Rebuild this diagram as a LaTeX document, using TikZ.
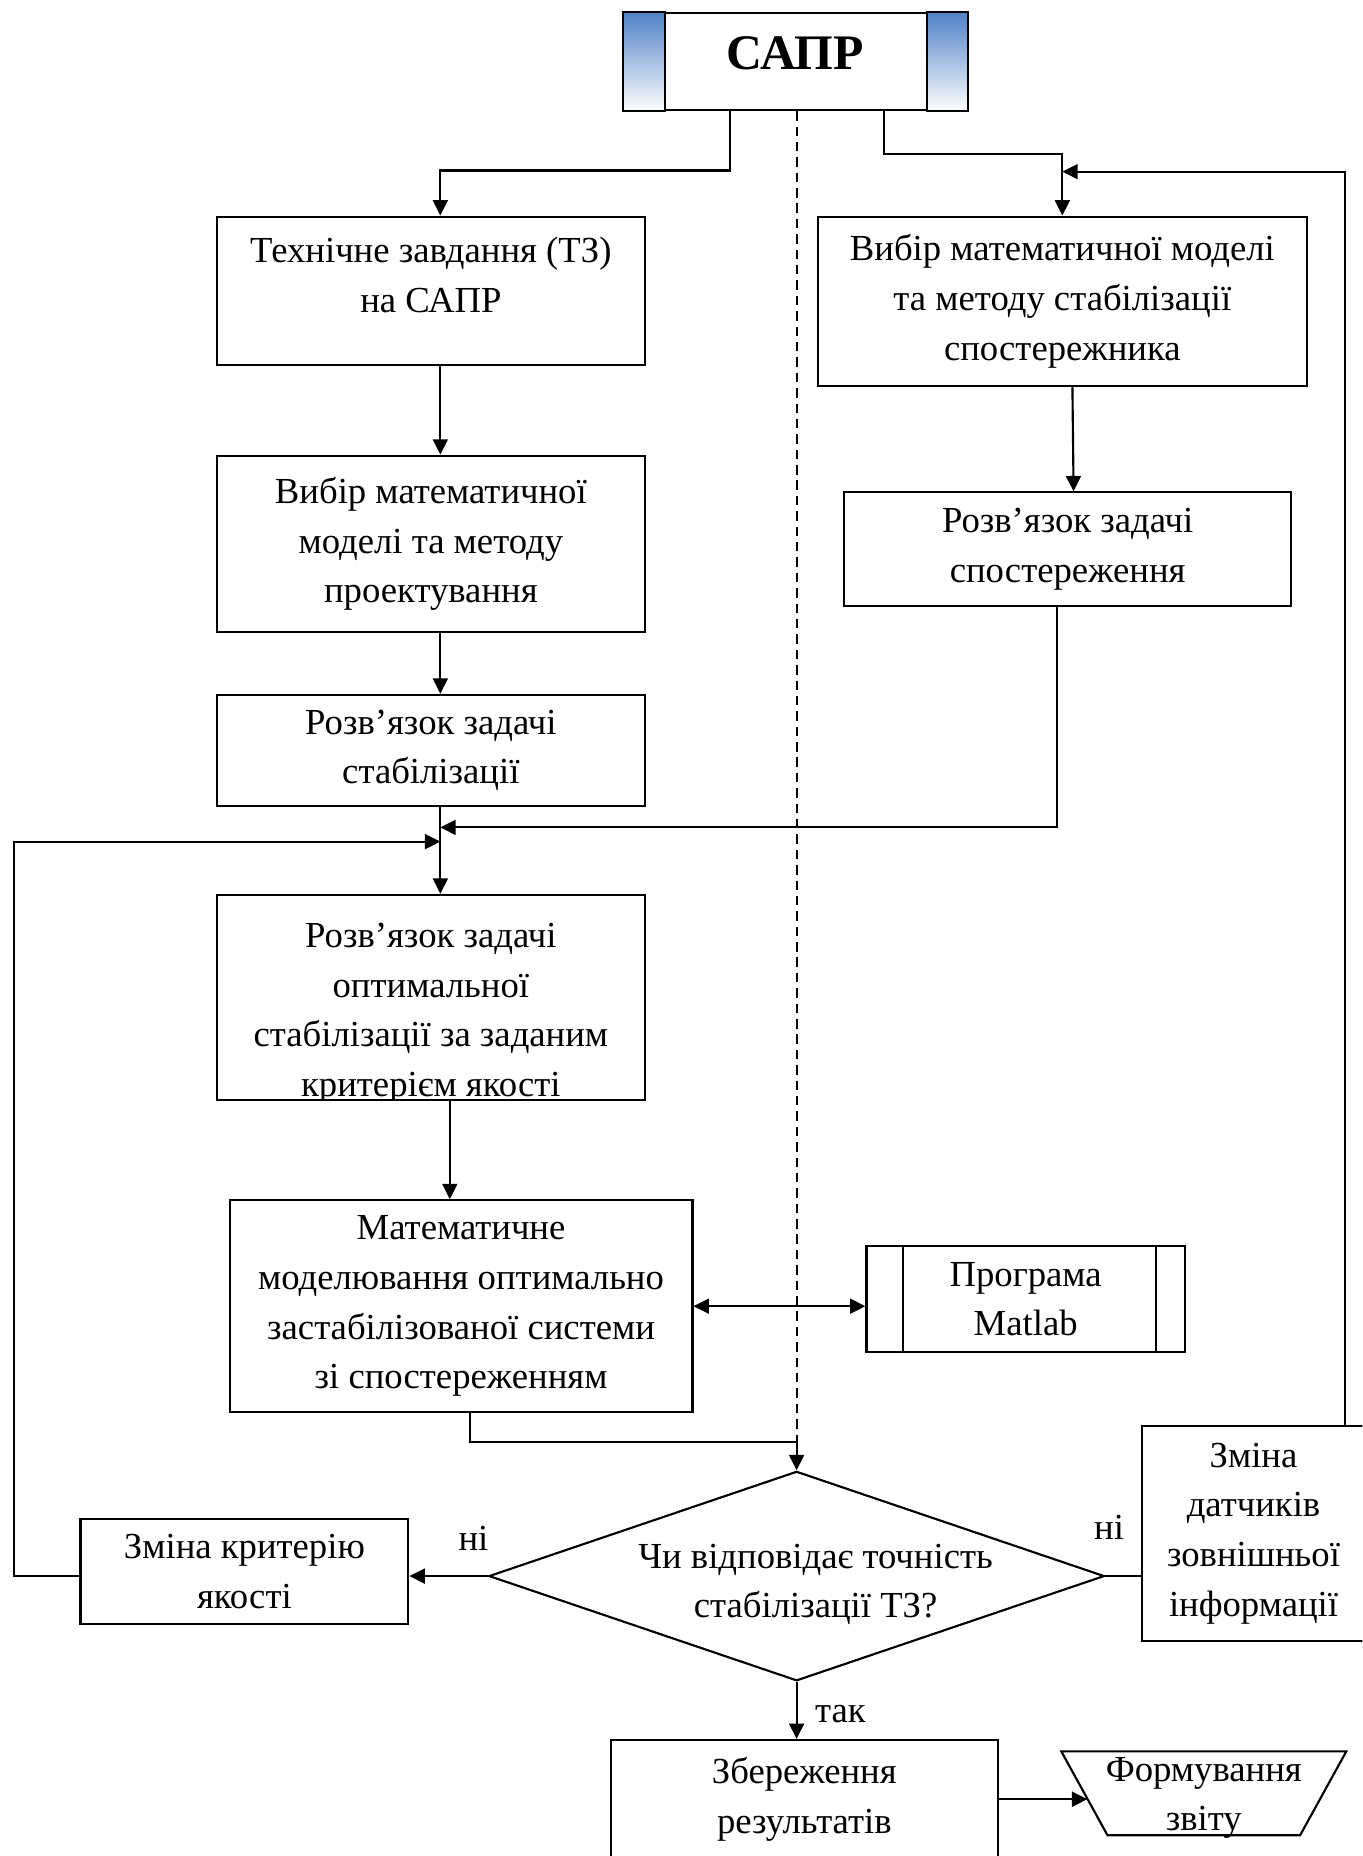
\documentclass[tikz,border=0pt]{standalone}
\usepackage{fontspec}
\setmainfont{Liberation Serif}
\usetikzlibrary{arrows.meta,shapes.geometric}
\newcommand\bodyfs{\fontsize{15.5}{21}\selectfont}
\newcommand\saprfs{\fontsize{21}{25}\selectfont\bfseries}
\definecolor{sapblue}{RGB}{79,129,199}
\begin{document}
\begin{tikzpicture}[x=0.5pt,y=-0.5pt,
  box/.style={draw, line width=0.9pt, inner sep=0pt, align=center, font=\bodyfs},
  txt/.style={inner sep=0pt, align=center, font=\bodyfs},
  ln/.style={line width=0.9pt},
  arr/.style={line width=0.9pt, -{Triangle[length=6.5pt,width=6.3pt]}},
  darr/.style={line width=0.9pt, {Triangle[length=6.5pt,width=6.3pt]}-{Triangle[length=6.5pt,width=6.3pt]}},
  dia/.style={draw, line width=0.9pt, diamond, inner sep=0pt, minimum width=260pt, minimum height=88.5pt},
  frame/.style={inner sep=0pt, minimum width=120pt, minimum height=35pt},
]
\clip (0,0) rectangle (1151,1568);
\fill[white] (0,0) rectangle (1151,1568);

% top box
\node[box, minimum width=145pt, minimum height=41pt] (sapr) at (672,52) {};
\shadedraw[line width=0.9pt, top color=sapblue, bottom color=white] (sapr.north west) rectangle ([xshift=18pt]sapr.south west);
\shadedraw[line width=0.9pt, top color=sapblue, bottom color=white] (sapr.north east) rectangle ([xshift=-17.5pt]sapr.south east);
\node[txt, font=\saprfs] (saprt) at ([yshift=3.5pt]sapr.center) {САПР};

% left column
\node[box, minimum width=181pt, minimum height=62.5pt] (tz) at (364,245.5) {};
\node[txt] (tzt) at ([yshift=6.5pt]tz.center) {Технічне завдання (ТЗ)\\на САПР};
\node[box, minimum width=181pt, minimum height=74.5pt] (vm) at (364,459.5) {Вибір математичної\\моделі та методу\\проектування};
\node[box, minimum width=181pt, minimum height=47pt] (rs) at (364,634) {Розв’язок задачі\\стабілізації};
\node[box, minimum width=181pt, minimum height=86.5pt] (opt) at (364,842.5) {};
\begin{scope}
  \clip (opt.north west) rectangle (opt.south east);
  \node[txt] (optt) at ([yshift=-7pt]opt.center) {Розв’язок задачі\\оптимальної\\стабілізації за заданим\\критерієм якості};
\end{scope}
\node[box, minimum width=195.5pt, minimum height=89.5pt] (mm) at (389.5,1103.5) {Математичне\\моделювання оптимально\\застабілізованої системи\\зі спостереженням};

% right column
\node[box, minimum width=206.5pt, minimum height=71.5pt] (r1) at (897.5,254.5) {Вибір математичної моделі\\та методу стабілізації\\спостережника};
\node[box, minimum width=189pt, minimum height=48pt] (r2) at (902,464) {Розв’язок задачі\\спостереження};
\node[box, minimum width=134.5pt, minimum height=44.5pt] (ml) at (866.5,1097.5) {Програма\\Matlab};
\draw[ln] ([xshift=16pt]ml.north west) -- ([xshift=16pt]ml.south west);
\draw[ln] ([xshift=-12.5pt]ml.north east) -- ([xshift=-12.5pt]ml.south east);

% decision and lower part
\node[dia] (dec) at (673,1331.5) {};
\node[txt] (dect) at ([shift={(8pt,-3.5pt)}]dec.center) {Чи відповідає точність\\стабілізації ТЗ?};
\node[box, minimum width=138.5pt, minimum height=44.5pt] (zk) at (206.5,1327.5) {Зміна критерію\\якості};
\node[box, minimum width=94pt, minimum height=90.5pt] (zd) at (1059,1295.5) {Зміна\\датчиків\\зовнішньої\\інформації};
\node[box, minimum width=163.5pt, minimum height=50pt] (zb) at (679.5,1520) {Збереження\\результатів};
\node[frame] (fz) at (1017,1515) {};
\draw[ln] (fz.north west) -- (fz.north east) -- ([xshift=-19.5pt]fz.south east) -- ([xshift=19.5pt]fz.south west) -- cycle;
\node[txt] (fzt) at ([yshift=-2pt]fz.center) {Формування\\звіту};

% labels
\node[txt] (no1) at (400,1300) {ні};
\node[txt] (no2) at (937,1290) {ні};
\node[txt] (yes) at (710,1448) {так};

% bend points
\coordinate (c1) at (617,144);
\coordinate (c2) at (747,130);
\coordinate (c3) at (1136,145);
\coordinate (j1) at (372,699);
\coordinate (c4) at (12,711);
\coordinate (j2) at (372,711);
\coordinate (c5) at (397,1218);
\path (zb.east -| fz.west) ++(11pt,0) coordinate (fzin);

% connectors
\draw[arr] (sapr.south -| c1) -- (c1) -| ([xshift=4pt]tz.north);
\draw[arr] (sapr.south -| c2) -- (c2) -| (r1.north);
\draw[arr] (zd.north -| c3) -- (c3) -- (c3 -| r1.north);
\draw[arr] ([xshift=4pt]tz.south) -- ([xshift=4pt]vm.north);
\draw[arr] ([xshift=4pt]vm.south) -- ([xshift=4pt]rs.north);
\draw[arr] ([xshift=4pt]rs.south) -- ([xshift=4pt]opt.north);
\draw[arr] ([xshift=4.25pt]r1.south) -- ([xshift=2.5pt]r2.north);
\draw[arr] ([xshift=-4.5pt]r2.south) |- (j1);
\draw[arr] (zk.west |- dec.west) -| (c4) -- (j2);
\draw[arr] ([xshift=8pt]opt.south) -- ([xshift=-4.75pt]mm.north);
\draw[darr] (mm.east) -- (mm.east -| ml.west);
\draw[arr] (mm.south -| c5) -- (c5) -| (dec.north);
\draw[ln, dash pattern=on 4pt off 2.5pt] (sapr.south -| dec.north) -- (c5 -| dec.north);
\draw[arr] (dec.west) -- (dec.west -| zk.east);
\draw[ln] (dec.east) -- (zd.west |- dec.east);
\draw[arr] (dec.south) -- (dec.south |- zb.north);
\draw[arr] (zb.east) -- (fzin);
\end{tikzpicture}
\end{document}
